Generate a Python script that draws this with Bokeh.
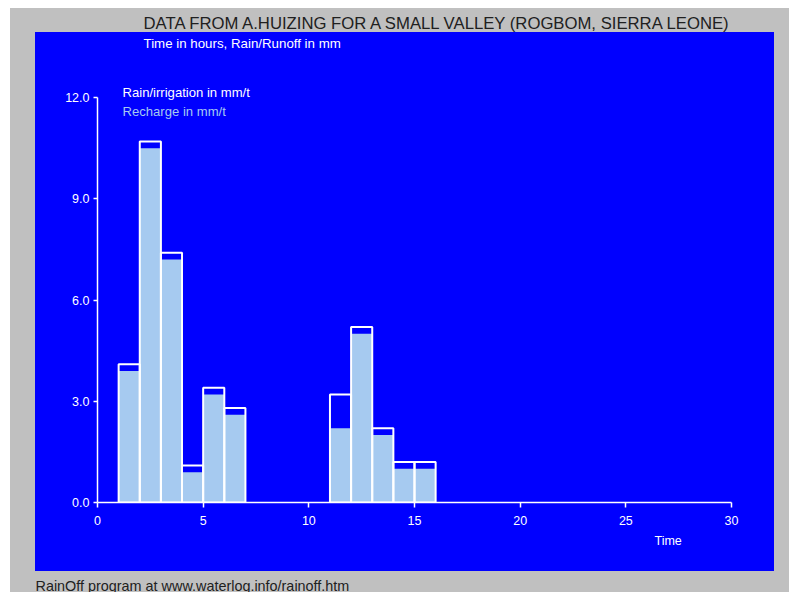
from bokeh.plotting import figure
from bokeh.layouts import column, row
from bokeh.models import Range1d, FixedTicker, NumeralTickFormatter, Label, ColumnDataSource, Title
from bokeh.core.properties import value
from bokeh.embed import file_html
from bokeh.resources import INLINE

# ---- data ----
title_text = "DATA FROM A.HUIZING FOR A SMALL VALLEY (ROGBOM, SIERRA LEONE)"
subtitle_text = "Time in hours, Rain/Runoff in mm"
footer_text = "RainOff program at www.waterlog.info/rainoff.htm"
rain_label = "Rain/irrigation in mm/t"
recharge_label = "Recharge in mm/t"
x_label = "Time"

time_start = [1, 2, 3, 4, 5, 6, 11, 12, 13, 14, 15]
time_end = [2, 3, 4, 5, 6, 7, 12, 13, 14, 15, 16]
rain = [4.1, 10.7, 7.4, 1.1, 3.4, 2.8, 3.2, 5.2, 2.2, 1.2, 1.2]
recharge = [3.9, 10.5, 7.2, 0.9, 3.2, 2.6, 2.2, 5.0, 2.0, 1.0, 1.0]
x_ticks = [0, 5, 10, 15, 20, 25, 30]
y_ticks = [0, 3, 6, 9, 12]

GRAY = "#C0C0C0"
BLUE = "#0000FF"
LIGHT = "#A6CAF0"
FONT = "Liberation Sans"


def strip(w, h):
    f = figure(width=w, height=h, output_backend="svg", toolbar_location=None,
               x_range=Range1d(0, w), y_range=Range1d(0, h), min_border=0,
               x_axis_location=None, y_axis_location=None)
    f.grid.visible = False
    f.background_fill_color = GRAY
    f.border_fill_color = GRAY
    f.outline_line_color = None
    f.styles = {"background-color": GRAY}
    return f


top = strip(779, 24)
top.text(x=[133], y=[9], text=[title_text], text_font=value(FONT),
         text_font_size="16.7px", text_color="#202020",
         text_baseline="middle", text_align="left")

bottom = strip(779, 21)
bottom.text(x=[25], y=[7], text=[footer_text], text_font=value(FONT),
            text_font_size="14.4px", text_color="#202020",
            text_baseline="middle", text_align="left")

left = strip(25, 539)
right = strip(15, 539)

p = figure(width=739, height=539, output_backend="svg", toolbar_location=None,
           x_range=Range1d(0, 32.035), y_range=Range1d(0, 13.926),
           min_border_left=62, min_border_right=0,
           min_border_top=0, min_border_bottom=69)
p.background_fill_color = BLUE
p.border_fill_color = BLUE
p.outline_line_color = None
p.grid.visible = False
p.styles = {"background-color": BLUE}

src = ColumnDataSource(dict(left=time_start, right=time_end, rain=rain, recharge=recharge))
p.quad(left="left", right="right", bottom=0, top="recharge", source=src,
       fill_color=LIGHT, line_color=None)
p.quad(left="left", right="right", bottom=0, top="rain", source=src,
       fill_color=None, line_color="white", line_width=2)

for ax in (p.xaxis[0], p.yaxis[0]):
    ax.axis_line_color = "white"
    ax.axis_line_width = 1.5
    ax.major_tick_line_color = "white"
    ax.major_tick_line_width = 1.5
    ax.major_tick_in = 0
    ax.minor_tick_line_color = None
    ax.major_label_text_color = "white"
    ax.major_label_text_font = FONT
    ax.major_label_text_font_size = "12.5px"

p.xaxis[0].ticker = FixedTicker(ticks=x_ticks)
p.xaxis[0].bounds = (0, 30)
p.xaxis[0].major_tick_out = 5
p.xaxis[0].major_label_standoff = 8
p.yaxis[0].ticker = FixedTicker(ticks=y_ticks)
p.yaxis[0].bounds = (0, 12)
p.yaxis[0].formatter = NumeralTickFormatter(format="0.0")
p.yaxis[0].major_tick_out = 4
p.yaxis[0].major_label_standoff = 4

p.add_layout(Label(x=2.177, y=13.6, text=subtitle_text, text_color="white",
                   text_font=FONT, text_font_size="13.3px", text_baseline="middle"))
p.add_layout(Label(x=1.183, y=12.15, text=rain_label, text_color="white",
                   text_font=FONT, text_font_size="13.1px", text_baseline="middle"))
p.add_layout(Label(x=1.183, y=11.585, text=recharge_label, text_color=LIGHT,
                   text_font=FONT, text_font_size="13.1px", text_baseline="middle"))
p.add_layout(Title(text=x_label, align="left", offset=557, text_color="white",
                   text_font=FONT, text_font_size="12.5px", text_font_style="normal",
                   standoff=8), "below")

layout = column(top, row(left, p, right), bottom)
layout.margin = (8, 0, 0, 10)

open("out.html", "w").write(file_html(layout, INLINE))
